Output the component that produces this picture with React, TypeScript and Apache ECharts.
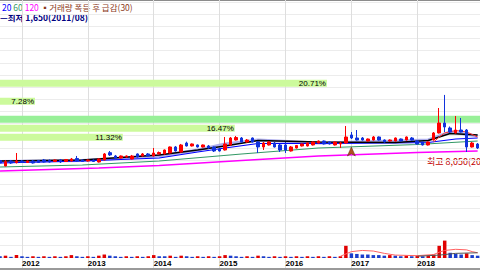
import React, { useEffect, useRef } from 'react';
import * as echarts from 'echarts';

// Monthly categories, 2011/09 .. 2018/12
const months: string[] = [];
for (let y = 2011; y <= 2018; y++) {
  for (let m = 1; m <= 12; m++) {
    if (y === 2011 && m < 9) continue;
    months.push(`${y}/${String(m).padStart(2, '0')}`);
  }
}

const open = [
  2180, 1690, 2135, 2000, 2135, 2000, 2135, 2180, 2225, 2180,
  2090, 2225, 2090, 2135, 2360, 2225, 2135, 2225, 2045, 2225,
  2880, 2585, 2405, 2495, 2315, 2765, 2585, 2765, 2585, 2765,
  2765, 2850, 3390, 2940, 3745, 3480, 3570, 3390, 3480, 3390,
  3210, 3120, 3570, 4015, 4195, 3835, 4195, 3835, 3390, 3570,
  3745, 3570, 3570, 3030, 3300, 3480, 3480, 3570, 3745, 3925,
  3835, 3570, 3660, 3745, 4465, 4195, 4195, 3925, 4015, 4285,
  4015, 3925, 3925, 4105, 4015, 4195, 3925, 3835, 3570, 4015,
  4645, 5540, 5090, 4645, 4910, 4910, 3390, 3655,
];
const close = [
  1955, 2075, 1955, 2135, 2000, 2135, 1955, 2000, 2045, 2045,
  2225, 2045, 2270, 2315, 2135, 2090, 2225, 2090, 2315, 2765,
  2675, 2405, 2585, 2585, 2585, 2495, 2765, 2585, 2850, 2895,
  3120, 3390, 3030, 3570, 3480, 3660, 3390, 3570, 3300, 3030,
  3030, 3660, 4195, 4240, 3835, 4015, 3835, 3390, 3745, 3835,
  3390, 3120, 3120, 3390, 3525, 3660, 3745, 3835, 3925, 3660,
  3660, 3835, 3745, 4285, 4195, 4015, 4015, 4105, 4285, 4015,
  3835, 4015, 4195, 3925, 4285, 4015, 3660, 3570, 3835, 4645,
  5540, 5180, 4730, 4910, 4730, 3390, 3745, 3300,
];
const low = [
  1870, 1665, 1870, 1910, 1955, 1955, 1910, 1955, 2000, 2000,
  2045, 1955, 2045, 2090, 2090, 2045, 2090, 2045, 2000, 2180,
  2585, 2360, 2360, 2450, 2270, 2450, 2540, 2540, 2540, 2720,
  2720, 2810, 2985, 2895, 3435, 3435, 3345, 3345, 3255, 2940,
  2985, 3075, 3525, 3970, 3790, 3790, 3790, 2850, 3120, 3525,
  3345, 2940, 2850, 2985, 3255, 3435, 3435, 3525, 3705, 3615,
  3615, 3525, 3300, 3700, 4105, 3970, 3970, 3880, 3970, 3970,
  3790, 3880, 3880, 3880, 3970, 3970, 3615, 3525, 3525, 3970,
  4600, 4730, 4645, 4600, 4690, 2940, 3345, 3210,
];
const high = [
  2315, 2225, 2225, 2850, 2225, 2180, 2225, 2225, 2315, 2270,
  2270, 2315, 2315, 2405, 2585, 2270, 2270, 2270, 2360, 2850,
  3030, 2675, 2630, 2630, 2675, 2810, 2850, 2850, 3300, 2985,
  3165, 3435, 3480, 3660, 3865, 3705, 3615, 3615, 3570, 3435,
  3300, 4285, 4285, 4375, 4285, 4105, 4240, 3925, 3835, 3925,
  3835, 3660, 3835, 3480, 3570, 3705, 3790, 3880, 3970, 3970,
  3880, 3880, 3865, 5270, 4730, 4910, 4285, 4150, 4375, 4330,
  4060, 4060, 4240, 4150, 4330, 4285, 4015, 3880, 3880, 4730,
  6880, 8050, 5225, 6165, 5985, 5000, 3835, 3745,
];
const volume = [
  3, 4, 2, 5,
  3, 2, 3, 2, 3, 2, 3, 2, 3, 5, 3, 2,
  3, 2, 4, 6, 4, 3, 2, 3, 2, 3, 2, 3,
  5, 3, 3, 4, 2, 4, 3, 2, 3, 2, 3, 2,
  3, 5, 4, 3, 2, 3, 2, 4, 3, 2, 3, 2,
  3, 2, 3, 2, 3, 2, 3, 2, 3, 2, 3, 21,
  8, 7, 6, 6, 5, 5, 4, 5, 4, 3, 4, 3,
  4, 3, 4, 6, 21, 30, 9, 7, 6, 8, 5, 4,
];

// Moving-average lines: [month index, price]
const ma20 = [[0, 1957], [15, 2136], [29, 2404], [36, 2941], [41, 3300], [47, 3702], [58, 3702], [72, 3747], [78, 3792], [83, 4105], [87, 4195]];
const ma60 = [[0, 1599], [15, 1778], [29, 2136], [44, 2762], [58, 3300], [76, 3613], [87, 3926]];
const ma120 = [[0, 1240], [18, 1509], [29, 1732], [44, 2180], [58, 2583], [76, 2896], [87, 3031]];
const maShort = [[0, 2136], [15, 2225], [29, 2673], [36, 3120], [41, 3479], [47, 3971], [58, 3837], [72, 3792], [78, 3971], [82, 4598], [87, 4463]];
const maMid = [[0, 2091], [15, 2180], [29, 2583], [36, 3120], [41, 3658], [47, 4016], [58, 3747], [72, 3926], [78, 4016], [82, 4732], [87, 4374]];
const maRed = [[79, 3837], [80, 4284], [81, 4643], [83, 4867], [85, 4732], [87, 4284]];
const volMa = [[62, 3], [63, 7], [64, 11], [66, 13], [68, 12], [70, 8], [72, 5], [76, 4], [79, 6], [80, 10], [81, 13], [83, 15], [85, 14], [86, 11], [87, 9]];
const volMa2 = [[76, 3], [80, 5], [83, 8], [87, 9]];

// Volume-at-price profile (top bin first)
const profileBins = ['8,690~9,500', '7,880~8,690', '7,080~7,880', '6,270~7,080', '5,470~6,270', '4,660~5,470', '3,860~4,660'];
const profilePct: (number | null)[] = [20.71, null, 7.28, null, 44.22, 16.47, 11.32];

// Signal: 거래량 폭등 후 급감
const signalIdx = [64];
const signalPrice = [3390];

const lowPrice = 1650;
const lowMonth = '2011/08';

export default function App() {
  const ref = useRef<HTMLDivElement>(null);
  useEffect(() => {
    const chart = echarts.init(ref.current!, null, { renderer: 'svg' });
    const L = -2.06;
    const W = 479.7;
    const isJan = (_i: number, v: string) => String(v).endsWith('/01');
    let maxIdx = 0;
    high.forEach((h, i) => { if (h > high[maxIdx]) maxIdx = i; });
    let pMax = 0;
    profilePct.forEach((p, i) => { if ((p ?? 0) > (profilePct[pMax] ?? 0)) pMax = i; });
    const hidden = { show: true, axisLine: { show: false }, axisTick: { show: false }, axisLabel: { show: false }, splitLine: { show: false } };
    const line = (data: number[][], color: string, width: number, z = 2, opacity = 1) => ({
      type: 'line', xAxisIndex: 0, yAxisIndex: 0, data, symbol: 'none', silent: true, z,
      lineStyle: { color, width, opacity },
    });
    const cjk = 'Noto Sans CJK KR';
    const fs = 8.5;

    const option: any = {
      animation: false,
      backgroundColor: '#ffffff',
      grid: [
        { left: L, width: W, top: 0, height: 172 },
        { left: L, width: W, top: 200, height: 58 },
        { left: L, width: W, top: 0, height: 268 },
        { left: 0, width: 480, top: 78.8, height: 63 },
        { left: 0, width: 480, top: 2, height: 255.3 },
      ],
      xAxis: [
        { type: 'category', gridIndex: 0, data: months, boundaryGap: false, ...hidden },
        { type: 'category', gridIndex: 1, data: months, boundaryGap: false, ...hidden },
        {
          type: 'category', gridIndex: 2, data: months, boundaryGap: false,
          axisLine: { show: false }, axisTick: { show: false },
          axisLabel: {
            show: true, inside: true, interval: isJan, align: 'left', margin: 1,
            formatter: (v: string) => (v.endsWith('/01') ? v.slice(0, 4) : ''),
            fontSize: 8, fontWeight: 'bold', fontFamily: 'Liberation Sans', color: '#000',
          },
          splitLine: { show: true, interval: isJan, lineStyle: { color: '#dedede', width: 1 } },
        },
        { type: 'value', gridIndex: 3, min: 5.67, max: 27.75, ...hidden },
        { type: 'value', gridIndex: 4, min: 0, max: 1, ...hidden },
      ],
      yAxis: [
        { type: 'value', gridIndex: 0, min: 1150, max: 16550, ...hidden },
        { type: 'value', gridIndex: 1, min: 0, max: 100, ...hidden },
        { type: 'value', gridIndex: 2, min: 0, max: 1, ...hidden },
        { type: 'category', gridIndex: 3, data: profileBins, inverse: true, ...hidden },
        {
          type: 'value', gridIndex: 4, min: 0, max: 21, interval: 1,
          axisLine: { show: false }, axisTick: { show: false }, axisLabel: { show: false },
          splitLine: { show: true, lineStyle: { color: '#ececec', width: 1 } },
        },
      ],
      series: [
        {
          type: 'bar', xAxisIndex: 3, yAxisIndex: 3, barWidth: 7, z: 1, silent: true,
          data: profilePct.map((v, i) => ({
            value: v,
            itemStyle: { color: i === pMax ? '#98f098' : '#ccfa9c' },
            label: { show: i !== pMax && v != null },
          })),
          label: {
            show: true, position: 'insideRight', distance: 1,
            formatter: (p: any) => `${Number(p.value).toFixed(2)}%`,
            fontSize: 8, fontFamily: 'Liberation Sans', color: '#000',
          },
        },
        line(ma120, '#ff00ff', 1.5),
        line(ma60, '#339966', 1.2),
        line(maMid, '#9a9ae8', 3, 2, 0.8),
        line(ma20, '#0000ff', 1.2),
        line(maShort, '#000000', 1.5),
        line(maRed, '#ff3030', 1),
        {
          type: 'candlestick', xAxisIndex: 0, yAxisIndex: 0, barWidth: 3, clip: false, z: 3, silent: true,
          data: months.map((_, i) => [open[i], close[i], low[i], high[i]]),
          itemStyle: { color: '#ff0000', color0: '#1133dd', borderColor: '#ff0000', borderColor0: '#1133dd', borderWidth: 1 },
        },
        {
          type: 'scatter', xAxisIndex: 0, yAxisIndex: 0, symbol: 'arrow', symbolSize: [6, 9], z: 4, silent: true,
          data: signalIdx.map((idx, k) => [idx, signalPrice[k]]),
          itemStyle: { color: '#b0521e', opacity: 1, borderColor: '#5a2a10', borderWidth: 0.5 },
        },
        {
          type: 'bar', xAxisIndex: 1, yAxisIndex: 1, barWidth: 3.5, z: 3, silent: true,
          data: volume.map((v, i) => ({
            value: v,
            itemStyle: { color: i > 0 && v > volume[i - 1] ? '#e00000' : '#1a3ccc' },
          })),
        },
        { type: 'line', xAxisIndex: 1, yAxisIndex: 1, data: volMa, symbol: 'none', silent: true, z: 4, lineStyle: { color: '#ff6060', width: 1 } },
        { type: 'line', xAxisIndex: 1, yAxisIndex: 1, data: volMa2, symbol: 'none', silent: true, z: 4, lineStyle: { color: '#555555', width: 1 } },
      ],
      graphic: [
        { type: 'line', shape: { x1: 0, y1: 0.5, x2: 480, y2: 0.5 }, style: { stroke: '#8c8c8c', lineWidth: 1 }, silent: true },
        { type: 'line', shape: { x1: 0, y1: 269, x2: 480, y2: 269 }, style: { stroke: '#9a9a9a', lineWidth: 2 }, silent: true },
        {
          type: 'text', x: 2, y: 6.6, silent: true,
          style: {
            text: '{a|20} {b|60} {c|120} {d|▪거래량 폭등 후 급감(30)}',
            verticalAlign: 'middle', fontSize: fs, lineHeight: fs, fontFamily: cjk,
            rich: {
              a: { fill: '#0000ff', fontSize: fs, lineHeight: fs, fontFamily: cjk },
              b: { fill: '#339966', fontSize: fs, lineHeight: fs, fontFamily: cjk },
              c: { fill: '#ff00ff', fontSize: fs, lineHeight: fs, fontFamily: cjk },
              d: { fill: '#8b3a1a', fontSize: fs, lineHeight: fs, fontFamily: cjk },
            },
          },
        },
        {
          type: 'text', x: 0, y: 17.4, silent: true,
          style: {
            text: `—최저 ${lowPrice.toLocaleString('en-US')}(${lowMonth})`,
            verticalAlign: 'middle', fontSize: fs, lineHeight: fs, fontWeight: 'bold', fontFamily: cjk, fill: '#000080',
          },
        },
        {
          type: 'text', x: 427, y: 161, silent: true,
          style: {
            text: `최고 ${high[maxIdx].toLocaleString('en-US')}(${months[maxIdx]})`,
            verticalAlign: 'middle', fontSize: 9, fontFamily: cjk, fill: '#c00000',
          },
        },
      ],
    };
    chart.setOption(option);
    return () => chart.dispose();
  }, []);
  return <div ref={ref} style={{ position: 'fixed', left: 0, top: 0, width: 480, height: 270, background: '#fff' }} />;
}
